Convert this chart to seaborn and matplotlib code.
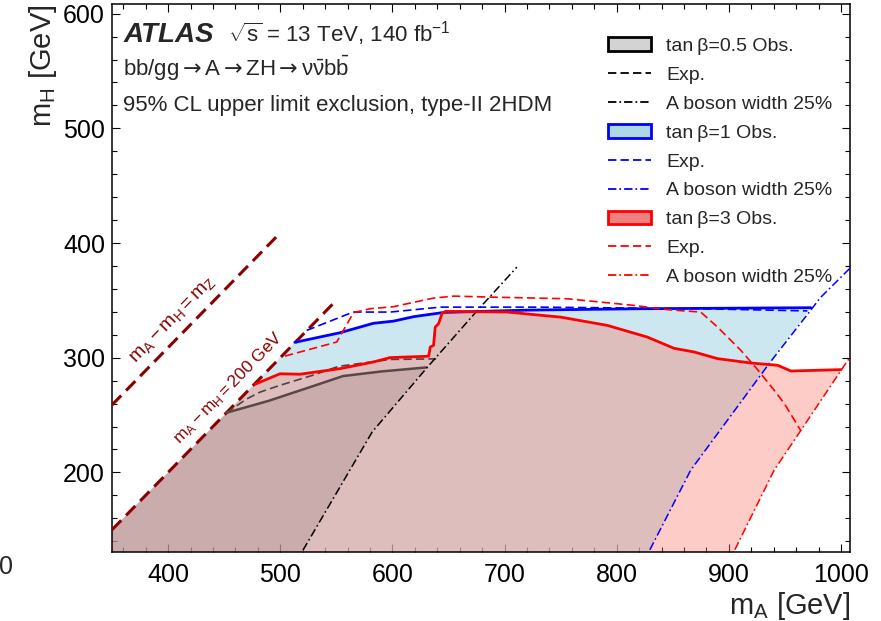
import matplotlib
matplotlib.use("Agg")
import matplotlib.pyplot as plt
from matplotlib.lines import Line2D
from matplotlib.patches import Patch
from matplotlib.ticker import MultipleLocator
import seaborn as sns

# ---------------------------------------------------------------
# Kinematic reference lines: mA - mH = const
MZ = 91.19
DELTA_200 = 200.0
diag_mz_mA = [350, 500]
diag_200_mA = [350, 550]

# tan(beta) = 0.5 : observed, expected, A-boson width 25% contour
tb05_obs_mA = [452, 490, 530, 556, 590, 630]
tb05_obs_mH = [252, 262.5, 275.5, 284, 288, 291.5]
tb05_exp_mA = [452, 470, 482, 500, 530, 552, 598, 639]
tb05_exp_mH = [252, 264, 270, 276, 285, 292.5, 298.5, 299]
tb05_wid_mA = [513, 582, 631, 676, 711]
tb05_wid_mH = [120, 235.3, 291.5, 341.5, 379]

# tan(beta) = 1
tb1_obs_mA = [513, 553, 583, 601, 619, 646, 720, 821, 973]
tb1_obs_mH = [313.4, 321.7, 330, 331.9, 335.8, 339.5, 341.5, 342.7, 343.6]
tb1_exp_mA = [523.6, 565, 598, 643, 732, 875, 970]
tb1_exp_mH = [323.8, 339.8, 339.8, 344.1, 344.1, 342.7, 340.8]
tb1_wid_mA = [823, 866, 936, 982, 1010]
tb1_wid_mH = [120, 202, 295, 352.8, 380]

# tan(beta) = 3
tb3_obs_mA = [477.4, 499.8, 517.6, 553.4, 583.1, 598, 632.3, 633.8, 636.7,
              638.2, 641.2, 644.2, 647.2, 702.3, 749.9, 791.6, 827.3, 851.1,
              869, 889.9, 919.6, 943.5, 955.4, 1000]
tb3_obs_mH = [276.8, 286, 285.6, 290.5, 296.3, 300.1, 301.3, 309.3, 310.8,
              326.7, 329.7, 338.4, 340.4, 339.8, 335.4, 328.2, 318, 308.2,
              305, 299.2, 295.4, 293.4, 288.4, 289.6]
tb3_exp_mA = [504.2, 550.4, 565.3, 580.2, 601, 636.7, 654.6, 690.3, 755.9,
              815.4, 845.2, 874.9, 889.9, 910.7, 925.6, 940.4, 949.4, 964.3]
tb3_exp_mH = [301.4, 313.7, 339.3, 342.7, 344.5, 352, 353.7, 352.8, 351.4,
              345.6, 341.9, 339.8, 326.7, 306.4, 289.6, 271.6, 260.1, 236.2]
tb3_wid_mA = [899, 940.4, 964.3, 1006, 1012]
tb3_wid_mH = [120, 202, 236.8, 297.7, 303]

legend_labels = ["tan\u2009β=0.5 Obs.", "Exp.", "A boson width 25%",
                 "tan\u2009β=1 Obs.", "Exp.", "A boson width 25%",
                 "tan\u2009β=3 Obs.", "Exp.", "A boson width 25%"]

# ---------------------------------------------------------------
sns.set_theme(style="ticks")
plt.rcParams["font.family"] = ["Liberation Sans", "DejaVu Sans"]
plt.rcParams["mathtext.fontset"] = "custom"
plt.rcParams["mathtext.rm"] = "Liberation Sans"
plt.rcParams["mathtext.it"] = "Liberation Sans:italic"
plt.rcParams["mathtext.bf"] = "Liberation Sans:bold"
plt.rcParams["mathtext.sf"] = "DejaVu Sans"
plt.rcParams["lines.scale_dashes"] = False

DASH = (0, (6, 3))
DASHDOT = (0, (6, 2.2, 1.2, 2.2))
DIAG_DASH = (0, (9.5, 5))
FLOOR = 120.0

fig = plt.figure(figsize=(8.81, 6.21), dpi=100)
ax = fig.add_axes([112 / 881, 69 / 621, 738 / 881, 548 / 621])


def excluded_region(obs_x, obs_y, wid_x, wid_y):
    """Polygon bounded by the mA-mH=200 GeV line, the observed limit and
    the width-validity contour."""
    xs = [FLOOR + DELTA_200] + list(obs_x)
    ys = [FLOOR] + list(obs_y)
    for x, y in zip(reversed(wid_x), reversed(wid_y)):
        if y < obs_y[-1]:
            xs.append(x)
            ys.append(y)
    return xs, ys


# excluded regions (semi-transparent so overlaps stay visible)
bx, by = excluded_region(tb1_obs_mA, tb1_obs_mH, tb1_wid_mA, tb1_wid_mH)
ax.fill(bx, by, color="#add8e6", alpha=0.6, lw=0, zorder=1)
rx, ry = excluded_region(tb3_obs_mA, tb3_obs_mH, tb3_wid_mA, tb3_wid_mH)
ax.fill(rx, ry, color="#fa8072", alpha=0.4, lw=0, zorder=2)
gx, gy = excluded_region(tb05_obs_mA, tb05_obs_mH, tb05_wid_mA, tb05_wid_mH)
ax.fill(gx, gy, color="black", alpha=0.085, lw=0, zorder=3)


def curve(x, y, **kw):
    sns.lineplot(x=x, y=y, sort=False, estimator=None, ax=ax, **kw)


# mass-splitting guide lines
curve(diag_mz_mA, [m - MZ for m in diag_mz_mA], color="#8b0000", lw=2.2,
      linestyle=DIAG_DASH, zorder=4)
curve(diag_200_mA, [m - DELTA_200 for m in diag_200_mA], color="#8b0000",
      lw=2.2, linestyle=DIAG_DASH, zorder=4)

# tan(beta) = 0.5
curve(tb05_exp_mA, tb05_exp_mH, color="#4f4444", lw=1.2, linestyle=DASH, zorder=5)
curve(tb05_obs_mA, tb05_obs_mH, color="#5c4646", lw=1.8, zorder=5)
curve(tb05_wid_mA, tb05_wid_mH, color="black", lw=1.1, linestyle=DASHDOT, zorder=5)

# tan(beta) = 1
curve(tb1_exp_mA, tb1_exp_mH, color="blue", lw=1.2, linestyle=DASH, zorder=6)
curve(tb1_obs_mA, tb1_obs_mH, color="blue", lw=2.0, zorder=6)
curve(tb1_wid_mA, tb1_wid_mH, color="blue", lw=1.1, linestyle=DASHDOT, zorder=6)

# tan(beta) = 3
curve(tb3_exp_mA, tb3_exp_mH, color="red", lw=1.2, linestyle=DASH, zorder=7)
curve(tb3_obs_mA, tb3_obs_mH, color="red", lw=2.0, zorder=7)
curve(tb3_wid_mA, tb3_wid_mH, color="red", lw=1.1, linestyle=DASHDOT, zorder=7)

# guide-line labels
ax.text(404.5, 333.0, r"$\mathrm{m_A - m_H = m_Z}$", color="#8b0000",
        fontsize=14, rotation=45.7, ha="center", va="center",
        rotation_mode="anchor")
ax.text(453.5, 273.5, r"$\mathrm{m_A - m_H = 200\ GeV}$", color="#8b0000",
        fontsize=12.5, rotation=45.7, ha="center", va="center",
        rotation_mode="anchor")

# axes
ax.set_xlim(350, 1008)
ax.set_ylim(130.6, 608.4)
ax.xaxis.set_major_locator(MultipleLocator(100))
ax.xaxis.set_minor_locator(MultipleLocator(20))
ax.yaxis.set_major_locator(MultipleLocator(100))
ax.yaxis.set_minor_locator(MultipleLocator(20))
ax.tick_params(which="both", direction="in", top=True, right=True,
               width=0.8, colors="black", labelsize=18)
ax.tick_params(which="major", length=6)
ax.tick_params(which="minor", length=3.5)
ax.tick_params(axis="x", pad=8)
ax.tick_params(axis="y", pad=5)
for sp in ax.spines.values():
    sp.set_linewidth(1.1)
    sp.set_color("black")

ax.set_xlabel(r"m$_\mathrm{A}$ [GeV]", fontsize=21, loc="right", labelpad=2)
ax.set_ylabel(r"m$_\mathrm{H}$ [GeV]", fontsize=21, loc="top", labelpad=3)

# header text
ax.text(0.015, 0.9307, "ATLAS", transform=ax.transAxes, fontsize=20,
        fontweight="bold", fontstyle="italic", va="baseline")
ax.text(0.157, 0.9307, r"$\sqrt{\mathrm{s}}$ = 13 TeV, 140 fb$^{-1}$",
        transform=ax.transAxes, fontsize=16, va="baseline")
ax.text(0.015, 0.8686,
        r"bb/gg$\mathsf{\rightarrow}$A$\mathsf{\rightarrow}$ZH"
        r"$\mathsf{\rightarrow}\mathrm{\nu\bar{\nu}b\bar{b}}$",
        transform=ax.transAxes, fontsize=16, va="baseline")
ax.text(0.015, 0.8047, "95% CL upper limit exclusion, type-II 2HDM",
        transform=ax.transAxes, fontsize=16, va="baseline")

# legend
styles = [("black", "#d3d3d3"), ("blue", "#add8e6"), ("red", "#f08080")]
handles = []
for i, (edge, face) in enumerate(styles):
    handles.append(Patch(facecolor=face, edgecolor=edge, linewidth=2,
                         label=legend_labels[3 * i]))
    handles.append(Line2D([], [], color=edge, lw=1.3, linestyle=DASH,
                          label=legend_labels[3 * i + 1]))
    handles.append(Line2D([], [], color=edge, lw=1.3, linestyle=DASHDOT,
                          label=legend_labels[3 * i + 2]))
ax.legend(handles=handles, loc="upper left", bbox_to_anchor=(0.672, 0.939),
          frameon=False, fontsize=14, handlelength=2.2, handletextpad=0.8,
          labelspacing=0.58, borderaxespad=0, borderpad=0)

fig.text(13 / 881, 1 - 567 / 621, "0", fontsize=18, ha="right", va="center")

fig.savefig("out.png", dpi=100)
